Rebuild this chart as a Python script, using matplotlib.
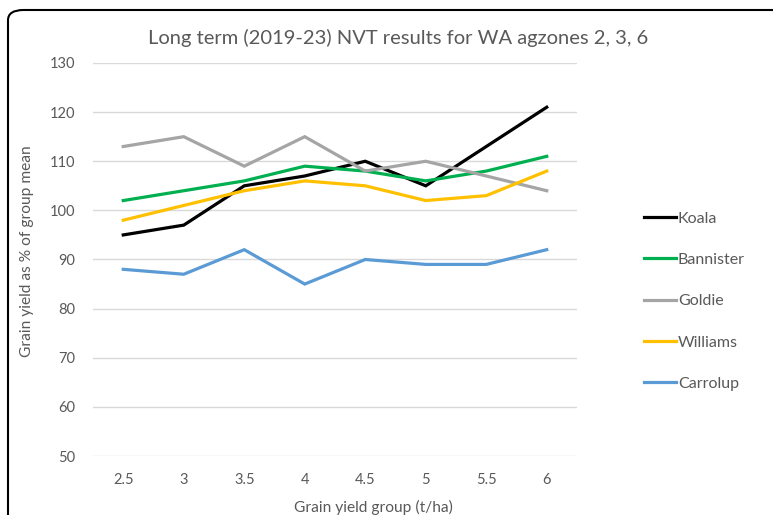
import matplotlib
matplotlib.use('Agg')
import matplotlib.pyplot as plt
from matplotlib.patches import FancyBboxPatch

plt.rcParams['font.family'] = ['Lato', 'DejaVu Sans']

groups = ['2.5', '3', '3.5', '4', '4.5', '5', '5.5', '6']
koala = [95, 97, 105, 107, 110, 105, 113, 121]
bannister = [102, 104, 106, 109, 108, 106, 108, 111]
goldie = [113, 115, 109, 115, 108, 110, 107, 104]
williams = [98, 101, 104, 106, 105, 102, 103, 108]
carrolup = [88, 87, 92, 85, 90, 89, 89, 92]

series = [('Koala', koala, '#000000'),
          ('Bannister', bannister, '#00b050'),
          ('Goldie', goldie, '#a5a5a5'),
          ('Williams', williams, '#ffc000'),
          ('Carrolup', carrolup, '#5b9bd5')]

txt = '#595959'

fig = plt.figure(figsize=(7.73, 5.15), dpi=100)
ax = fig.add_axes([93/773, 1-456/515, 484/773, 393/515])

x = list(range(len(groups)))
for name, vals, col in series:
    ax.plot(x, vals, color=col, lw=2.3, label=name, solid_joinstyle='miter')

ax.set_xlim(-0.5, len(groups) - 0.5)
ax.set_ylim(50, 130)
ax.set_yticks(range(50, 131, 10))
ax.set_xticks(x)
ax.set_xticklabels(groups)
ax.grid(axis='y', color='#d9d9d9', lw=1)
ax.set_axisbelow(True)
for s in ax.spines.values():
    s.set_visible(False)
ax.tick_params(length=0, colors=txt, labelsize=10.5)
ax.tick_params(axis='y', pad=13)
ax.tick_params(axis='x', pad=12)

fig.text(373/773, 1-507/515, 'Grain yield group (t/ha)', color=txt, fontsize=11.2,
         ha='center', va='center')
fig.text(27/773, 1-251/515, 'Grain yield as % of group mean', color=txt, fontsize=11.2,
         rotation=90, ha='center', va='center')
fig.text(398/773, 1-38/515, 'Long term (2019-23) NVT results for WA agzones 2, 3, 6',
         color=txt, fontsize=14.5, ha='center', va='center')

fig.legend(loc='upper left', bbox_to_anchor=(630/773, 1-197/515), frameon=False,
           fontsize=11.5, labelcolor=txt, handlelength=2.0, handletextpad=0.1,
           labelspacing=1.7)

# rounded chart border
border = FancyBboxPatch((8/773, -0.1), 1.1, 1.1 - 10/515,
                        boxstyle='round,pad=0,rounding_size=0.02',
                        transform=fig.transFigure, fill=False, ec='black', lw=1.5)
fig.patches.append(border)

fig.savefig('out.png', dpi=100)
